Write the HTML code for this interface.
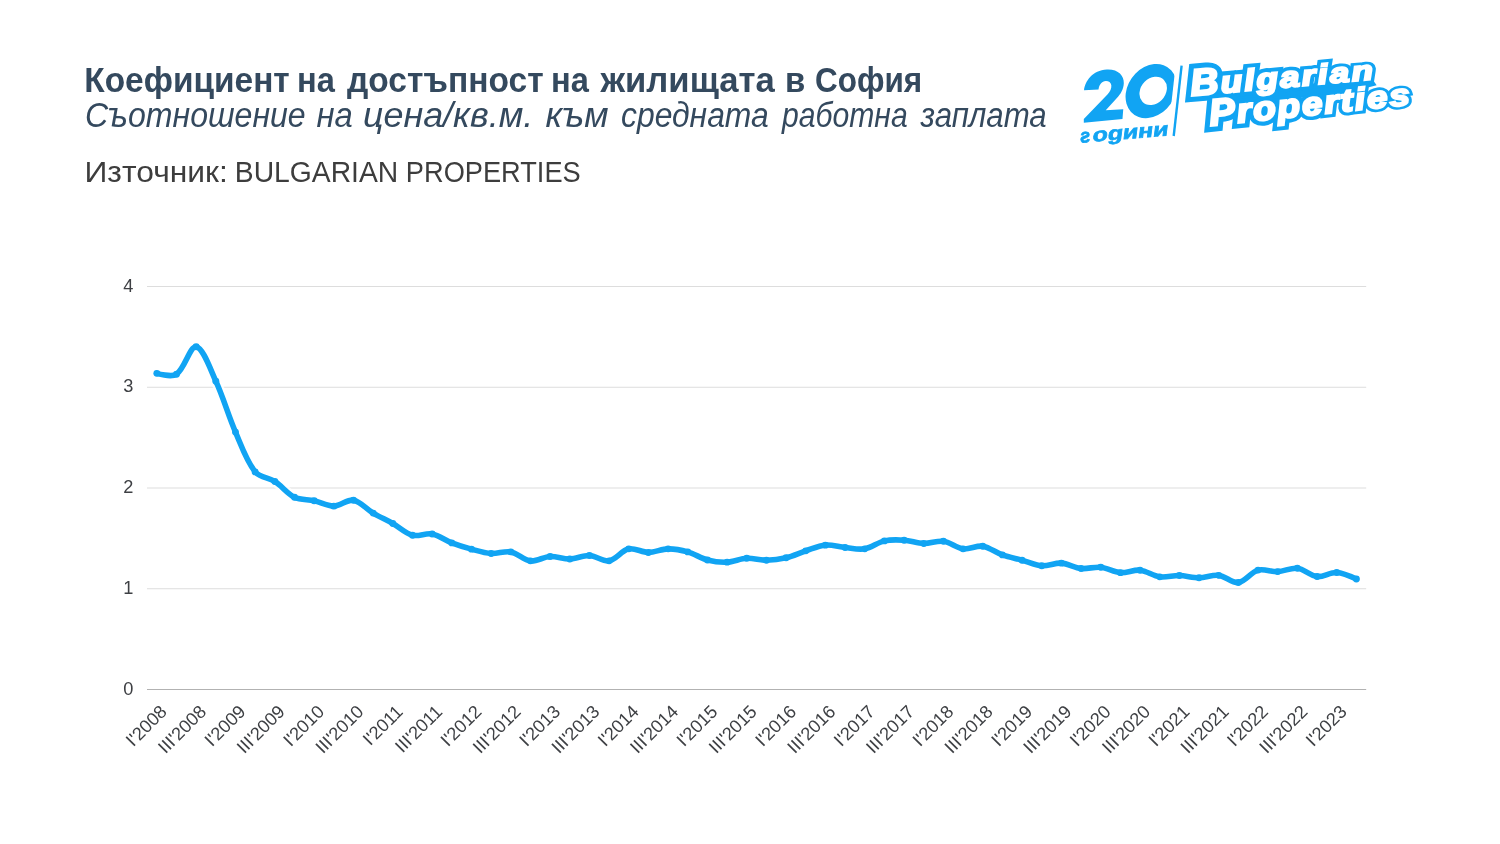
<!DOCTYPE html>
<html lang="bg"><head><meta charset="utf-8"><title>Коефициент на достъпност на жилищата в София</title>
<style>
html,body{margin:0;padding:0;background:#fff;}
body{width:1500px;height:844px;overflow:hidden;position:relative;font-family:"Liberation Sans",sans-serif;}
svg{display:block;position:absolute;left:0;top:0;will-change:transform;font-family:"Liberation Sans",sans-serif;}
</style></head><body>
<svg width="1500" height="844" viewBox="0 0 1500 844">
<rect width="1500" height="844" fill="#ffffff"/>
<line x1="147.0" y1="588.75" x2="1366.2" y2="588.75" stroke="#dddddd" stroke-width="1"/>
<line x1="147.0" y1="488.00" x2="1366.2" y2="488.00" stroke="#dddddd" stroke-width="1"/>
<line x1="147.0" y1="387.25" x2="1366.2" y2="387.25" stroke="#dddddd" stroke-width="1"/>
<line x1="147.0" y1="286.50" x2="1366.2" y2="286.50" stroke="#dddddd" stroke-width="1"/>
<line x1="147.0" y1="689.50" x2="1366.2" y2="689.50" stroke="#b2b2b2" stroke-width="1"/>
<text x="133.3" y="694.7" text-anchor="end" font-size="18.2" fill="#3e4044">0</text>
<text x="133.3" y="594.0" text-anchor="end" font-size="18.2" fill="#3e4044">1</text>
<text x="133.3" y="493.2" text-anchor="end" font-size="18.2" fill="#3e4044">2</text>
<text x="133.3" y="392.4" text-anchor="end" font-size="18.2" fill="#3e4044">3</text>
<text x="133.3" y="291.7" text-anchor="end" font-size="18.2" fill="#3e4044">4</text>
<text transform="translate(168.0 712.8) rotate(-45)" text-anchor="end" font-size="18.2" fill="#3e4044">I'2008</text>
<text transform="translate(207.4 712.8) rotate(-45)" text-anchor="end" font-size="18.2" fill="#3e4044">III'2008</text>
<text transform="translate(246.7 712.8) rotate(-45)" text-anchor="end" font-size="18.2" fill="#3e4044">I'2009</text>
<text transform="translate(286.0 712.8) rotate(-45)" text-anchor="end" font-size="18.2" fill="#3e4044">III'2009</text>
<text transform="translate(325.3 712.8) rotate(-45)" text-anchor="end" font-size="18.2" fill="#3e4044">I'2010</text>
<text transform="translate(364.7 712.8) rotate(-45)" text-anchor="end" font-size="18.2" fill="#3e4044">III'2010</text>
<text transform="translate(404.0 712.8) rotate(-45)" text-anchor="end" font-size="18.2" fill="#3e4044">I'2011</text>
<text transform="translate(443.3 712.8) rotate(-45)" text-anchor="end" font-size="18.2" fill="#3e4044">III'2011</text>
<text transform="translate(482.7 712.8) rotate(-45)" text-anchor="end" font-size="18.2" fill="#3e4044">I'2012</text>
<text transform="translate(522.0 712.8) rotate(-45)" text-anchor="end" font-size="18.2" fill="#3e4044">III'2012</text>
<text transform="translate(561.3 712.8) rotate(-45)" text-anchor="end" font-size="18.2" fill="#3e4044">I'2013</text>
<text transform="translate(600.7 712.8) rotate(-45)" text-anchor="end" font-size="18.2" fill="#3e4044">III'2013</text>
<text transform="translate(640.0 712.8) rotate(-45)" text-anchor="end" font-size="18.2" fill="#3e4044">I'2014</text>
<text transform="translate(679.3 712.8) rotate(-45)" text-anchor="end" font-size="18.2" fill="#3e4044">III'2014</text>
<text transform="translate(718.6 712.8) rotate(-45)" text-anchor="end" font-size="18.2" fill="#3e4044">I'2015</text>
<text transform="translate(758.0 712.8) rotate(-45)" text-anchor="end" font-size="18.2" fill="#3e4044">III'2015</text>
<text transform="translate(797.3 712.8) rotate(-45)" text-anchor="end" font-size="18.2" fill="#3e4044">I'2016</text>
<text transform="translate(836.6 712.8) rotate(-45)" text-anchor="end" font-size="18.2" fill="#3e4044">III'2016</text>
<text transform="translate(876.0 712.8) rotate(-45)" text-anchor="end" font-size="18.2" fill="#3e4044">I'2017</text>
<text transform="translate(915.3 712.8) rotate(-45)" text-anchor="end" font-size="18.2" fill="#3e4044">III'2017</text>
<text transform="translate(954.6 712.8) rotate(-45)" text-anchor="end" font-size="18.2" fill="#3e4044">I'2018</text>
<text transform="translate(993.9 712.8) rotate(-45)" text-anchor="end" font-size="18.2" fill="#3e4044">III'2018</text>
<text transform="translate(1033.3 712.8) rotate(-45)" text-anchor="end" font-size="18.2" fill="#3e4044">I'2019</text>
<text transform="translate(1072.6 712.8) rotate(-45)" text-anchor="end" font-size="18.2" fill="#3e4044">III'2019</text>
<text transform="translate(1111.9 712.8) rotate(-45)" text-anchor="end" font-size="18.2" fill="#3e4044">I'2020</text>
<text transform="translate(1151.3 712.8) rotate(-45)" text-anchor="end" font-size="18.2" fill="#3e4044">III'2020</text>
<text transform="translate(1190.6 712.8) rotate(-45)" text-anchor="end" font-size="18.2" fill="#3e4044">I'2021</text>
<text transform="translate(1229.9 712.8) rotate(-45)" text-anchor="end" font-size="18.2" fill="#3e4044">III'2021</text>
<text transform="translate(1269.2 712.8) rotate(-45)" text-anchor="end" font-size="18.2" fill="#3e4044">I'2022</text>
<text transform="translate(1308.6 712.8) rotate(-45)" text-anchor="end" font-size="18.2" fill="#3e4044">III'2022</text>
<text transform="translate(1347.9 712.8) rotate(-45)" text-anchor="end" font-size="18.2" fill="#3e4044">I'2023</text>
<path d="M156.83 373.35 C156.83 373.35 171.67 377.52 176.50 374.25 C184.78 368.65 190.13 345.68 196.16 346.75 C203.24 348.00 210.31 369.23 215.83 381.20 C223.42 397.67 228.26 415.42 235.49 432.08 C241.37 445.64 246.37 460.86 255.15 471.88 C259.48 477.31 268.73 477.52 274.82 481.45 C281.84 485.99 287.17 493.67 294.48 497.27 C300.28 500.12 307.66 499.33 314.15 500.80 C320.77 502.29 327.28 506.24 333.81 506.13 C340.39 506.03 347.36 499.11 353.48 500.19 C360.47 501.43 366.40 509.10 373.14 513.09 C379.51 516.86 386.35 519.83 392.81 523.46 C399.46 527.21 405.42 533.37 412.47 535.25 C418.53 536.87 425.88 532.72 432.14 533.94 C438.99 535.28 445.09 540.31 451.80 542.91 C458.20 545.39 464.83 547.37 471.46 549.16 C477.94 550.90 484.51 553.03 491.13 553.49 C497.62 553.94 504.54 550.71 510.79 551.88 C517.65 553.16 523.67 560.04 530.46 560.84 C536.78 561.59 543.51 556.83 550.12 556.51 C556.62 556.19 563.26 559.10 569.79 558.93 C576.37 558.76 582.96 555.19 589.45 555.50 C596.07 555.82 602.96 561.88 609.12 560.84 C616.07 559.67 621.76 550.35 628.78 548.85 C634.87 547.56 641.89 552.48 648.45 552.48 C655.00 552.48 661.54 548.95 668.11 548.85 C674.65 548.75 681.44 550.09 687.77 551.88 C694.55 553.78 700.65 558.16 707.44 559.94 C713.76 561.59 720.59 562.44 727.10 562.15 C733.70 561.86 740.17 558.54 746.77 558.22 C753.28 557.91 759.88 560.30 766.43 560.24 C772.99 560.17 779.71 559.34 786.10 557.82 C792.82 556.22 799.15 553.00 805.76 550.87 C812.26 548.77 818.76 545.69 825.43 545.13 C831.87 544.58 838.52 546.92 845.09 547.54 C851.63 548.16 858.44 549.92 864.75 548.85 C871.55 547.70 877.62 542.39 884.42 540.89 C890.73 539.50 897.57 539.75 904.08 540.19 C910.68 540.63 917.17 543.33 923.75 543.51 C930.28 543.70 937.06 540.43 943.41 541.30 C950.17 542.21 956.33 548.01 963.08 548.85 C969.44 549.65 976.45 545.27 982.74 546.23 C989.56 547.28 995.68 552.50 1002.41 554.90 C1008.79 557.17 1015.52 558.43 1022.07 560.24 C1028.63 562.05 1035.08 565.28 1041.74 565.78 C1048.19 566.26 1054.93 562.71 1061.40 563.16 C1068.04 563.62 1074.40 567.80 1081.06 568.50 C1087.51 569.18 1094.28 566.61 1100.73 567.29 C1107.39 567.99 1113.75 572.14 1120.39 572.63 C1126.86 573.11 1133.66 569.52 1140.06 570.21 C1146.77 570.93 1153.00 575.95 1159.72 576.86 C1166.11 577.73 1172.85 575.40 1179.39 575.55 C1185.96 575.70 1192.50 577.80 1199.05 577.77 C1205.61 577.73 1212.34 574.58 1218.72 575.35 C1225.45 576.16 1232.17 583.33 1238.38 582.50 C1245.28 581.58 1250.95 572.07 1258.05 570.11 C1264.06 568.45 1271.19 571.92 1277.71 571.62 C1284.30 571.32 1291.04 567.50 1297.37 568.30 C1304.15 569.15 1310.28 575.83 1317.04 576.56 C1323.39 577.24 1330.25 572.13 1336.70 572.53 C1343.36 572.94 1356.37 578.98 1356.37 578.98" fill="none" stroke="#ffffff" stroke-opacity="0.75" stroke-width="10.5" stroke-linecap="round" stroke-linejoin="round"/>
<path d="M156.83 373.35 C156.83 373.35 171.67 377.52 176.50 374.25 C184.78 368.65 190.13 345.68 196.16 346.75 C203.24 348.00 210.31 369.23 215.83 381.20 C223.42 397.67 228.26 415.42 235.49 432.08 C241.37 445.64 246.37 460.86 255.15 471.88 C259.48 477.31 268.73 477.52 274.82 481.45 C281.84 485.99 287.17 493.67 294.48 497.27 C300.28 500.12 307.66 499.33 314.15 500.80 C320.77 502.29 327.28 506.24 333.81 506.13 C340.39 506.03 347.36 499.11 353.48 500.19 C360.47 501.43 366.40 509.10 373.14 513.09 C379.51 516.86 386.35 519.83 392.81 523.46 C399.46 527.21 405.42 533.37 412.47 535.25 C418.53 536.87 425.88 532.72 432.14 533.94 C438.99 535.28 445.09 540.31 451.80 542.91 C458.20 545.39 464.83 547.37 471.46 549.16 C477.94 550.90 484.51 553.03 491.13 553.49 C497.62 553.94 504.54 550.71 510.79 551.88 C517.65 553.16 523.67 560.04 530.46 560.84 C536.78 561.59 543.51 556.83 550.12 556.51 C556.62 556.19 563.26 559.10 569.79 558.93 C576.37 558.76 582.96 555.19 589.45 555.50 C596.07 555.82 602.96 561.88 609.12 560.84 C616.07 559.67 621.76 550.35 628.78 548.85 C634.87 547.56 641.89 552.48 648.45 552.48 C655.00 552.48 661.54 548.95 668.11 548.85 C674.65 548.75 681.44 550.09 687.77 551.88 C694.55 553.78 700.65 558.16 707.44 559.94 C713.76 561.59 720.59 562.44 727.10 562.15 C733.70 561.86 740.17 558.54 746.77 558.22 C753.28 557.91 759.88 560.30 766.43 560.24 C772.99 560.17 779.71 559.34 786.10 557.82 C792.82 556.22 799.15 553.00 805.76 550.87 C812.26 548.77 818.76 545.69 825.43 545.13 C831.87 544.58 838.52 546.92 845.09 547.54 C851.63 548.16 858.44 549.92 864.75 548.85 C871.55 547.70 877.62 542.39 884.42 540.89 C890.73 539.50 897.57 539.75 904.08 540.19 C910.68 540.63 917.17 543.33 923.75 543.51 C930.28 543.70 937.06 540.43 943.41 541.30 C950.17 542.21 956.33 548.01 963.08 548.85 C969.44 549.65 976.45 545.27 982.74 546.23 C989.56 547.28 995.68 552.50 1002.41 554.90 C1008.79 557.17 1015.52 558.43 1022.07 560.24 C1028.63 562.05 1035.08 565.28 1041.74 565.78 C1048.19 566.26 1054.93 562.71 1061.40 563.16 C1068.04 563.62 1074.40 567.80 1081.06 568.50 C1087.51 569.18 1094.28 566.61 1100.73 567.29 C1107.39 567.99 1113.75 572.14 1120.39 572.63 C1126.86 573.11 1133.66 569.52 1140.06 570.21 C1146.77 570.93 1153.00 575.95 1159.72 576.86 C1166.11 577.73 1172.85 575.40 1179.39 575.55 C1185.96 575.70 1192.50 577.80 1199.05 577.77 C1205.61 577.73 1212.34 574.58 1218.72 575.35 C1225.45 576.16 1232.17 583.33 1238.38 582.50 C1245.28 581.58 1250.95 572.07 1258.05 570.11 C1264.06 568.45 1271.19 571.92 1277.71 571.62 C1284.30 571.32 1291.04 567.50 1297.37 568.30 C1304.15 569.15 1310.28 575.83 1317.04 576.56 C1323.39 577.24 1330.25 572.13 1336.70 572.53 C1343.36 572.94 1356.37 578.98 1356.37 578.98" fill="none" stroke="#11a4f3" stroke-width="5.6" stroke-linecap="round" stroke-linejoin="round"/>
<g fill="#11a4f3"><circle cx="156.83" cy="373.35" r="3.45"/><circle cx="176.50" cy="374.25" r="3.45"/><circle cx="196.16" cy="346.75" r="3.45"/><circle cx="215.83" cy="381.20" r="3.45"/><circle cx="235.49" cy="432.08" r="3.45"/><circle cx="255.15" cy="471.88" r="3.45"/><circle cx="274.82" cy="481.45" r="3.45"/><circle cx="294.48" cy="497.27" r="3.45"/><circle cx="314.15" cy="500.80" r="3.45"/><circle cx="333.81" cy="506.13" r="3.45"/><circle cx="353.48" cy="500.19" r="3.45"/><circle cx="373.14" cy="513.09" r="3.45"/><circle cx="392.81" cy="523.46" r="3.45"/><circle cx="412.47" cy="535.25" r="3.45"/><circle cx="432.14" cy="533.94" r="3.45"/><circle cx="451.80" cy="542.91" r="3.45"/><circle cx="471.46" cy="549.16" r="3.45"/><circle cx="491.13" cy="553.49" r="3.45"/><circle cx="510.79" cy="551.88" r="3.45"/><circle cx="530.46" cy="560.84" r="3.45"/><circle cx="550.12" cy="556.51" r="3.45"/><circle cx="569.79" cy="558.93" r="3.45"/><circle cx="589.45" cy="555.50" r="3.45"/><circle cx="609.12" cy="560.84" r="3.45"/><circle cx="628.78" cy="548.85" r="3.45"/><circle cx="648.45" cy="552.48" r="3.45"/><circle cx="668.11" cy="548.85" r="3.45"/><circle cx="687.77" cy="551.88" r="3.45"/><circle cx="707.44" cy="559.94" r="3.45"/><circle cx="727.10" cy="562.15" r="3.45"/><circle cx="746.77" cy="558.22" r="3.45"/><circle cx="766.43" cy="560.24" r="3.45"/><circle cx="786.10" cy="557.82" r="3.45"/><circle cx="805.76" cy="550.87" r="3.45"/><circle cx="825.43" cy="545.13" r="3.45"/><circle cx="845.09" cy="547.54" r="3.45"/><circle cx="864.75" cy="548.85" r="3.45"/><circle cx="884.42" cy="540.89" r="3.45"/><circle cx="904.08" cy="540.19" r="3.45"/><circle cx="923.75" cy="543.51" r="3.45"/><circle cx="943.41" cy="541.30" r="3.45"/><circle cx="963.08" cy="548.85" r="3.45"/><circle cx="982.74" cy="546.23" r="3.45"/><circle cx="1002.41" cy="554.90" r="3.45"/><circle cx="1022.07" cy="560.24" r="3.45"/><circle cx="1041.74" cy="565.78" r="3.45"/><circle cx="1061.40" cy="563.16" r="3.45"/><circle cx="1081.06" cy="568.50" r="3.45"/><circle cx="1100.73" cy="567.29" r="3.45"/><circle cx="1120.39" cy="572.63" r="3.45"/><circle cx="1140.06" cy="570.21" r="3.45"/><circle cx="1159.72" cy="576.86" r="3.45"/><circle cx="1179.39" cy="575.55" r="3.45"/><circle cx="1199.05" cy="577.77" r="3.45"/><circle cx="1218.72" cy="575.35" r="3.45"/><circle cx="1238.38" cy="582.50" r="3.45"/><circle cx="1258.05" cy="570.11" r="3.45"/><circle cx="1277.71" cy="571.62" r="3.45"/><circle cx="1297.37" cy="568.30" r="3.45"/><circle cx="1317.04" cy="576.56" r="3.45"/><circle cx="1336.70" cy="572.53" r="3.45"/><circle cx="1356.37" cy="578.98" r="3.45"/></g>
<text transform="translate(84.31 92.00) scale(0.9742 1)" font-size="34.30" font-weight="bold" fill="#34495e">Коефициент</text>
<text transform="translate(296.96 92.00) scale(0.9507 1)" font-size="34.30" font-weight="bold" fill="#34495e">на</text>
<text transform="translate(347.00 92.00) scale(0.9788 1)" font-size="34.30" font-weight="bold" fill="#34495e">достъпност</text>
<text transform="translate(550.96 92.00) scale(0.9507 1)" font-size="34.30" font-weight="bold" fill="#34495e">на</text>
<text transform="translate(600.54 92.00) scale(1.0096 1)" font-size="34.30" font-weight="bold" fill="#34495e">жилищата</text>
<text transform="translate(784.94 92.00) scale(0.9612 1)" font-size="34.30" font-weight="bold" fill="#34495e">в</text>
<text transform="translate(815.02 92.00) scale(0.9168 1)" font-size="34.30" font-weight="bold" fill="#34495e">София</text>
<text transform="translate(84.90 127.00) scale(0.9350 1)" font-size="34.30" font-style="italic" fill="#34495e">Съотношение</text>
<text transform="translate(316.49 127.00) scale(0.9573 1)" font-size="34.30" font-style="italic" fill="#34495e">на</text>
<text transform="translate(362.88 127.00) scale(1.0470 1)" font-size="34.30" font-style="italic" fill="#34495e">цена/кв.м.</text>
<text transform="translate(545.45 127.00) scale(1.0332 1)" font-size="34.30" font-style="italic" fill="#34495e">към</text>
<text transform="translate(621.00 127.00) scale(0.9290 1)" font-size="34.30" font-style="italic" fill="#34495e">средната</text>
<text transform="translate(781.94 127.00) scale(0.8795 1)" font-size="34.30" font-style="italic" fill="#34495e">работна</text>
<text transform="translate(920.49 127.00) scale(0.9098 1)" font-size="34.30" font-style="italic" fill="#34495e">заплата</text>
<text transform="translate(84.51 181.60) scale(1.0607 1)" font-size="30.00"  fill="#3d3d3d">Източник:</text>
<text transform="translate(234.79 181.60) scale(0.9431 1)" font-size="30.00"  fill="#3d3d3d">BULGARIAN</text>
<text transform="translate(405.87 181.60) scale(0.9068 1)" font-size="30.00"  fill="#3d3d3d">PROPERTIES</text>
<path d="M1083.81 122.85 L1083.81 119.06 L1107.43 94.44 C1110.21 91.43 1111.66 88.31 1111.33 85.19 C1110.99 82.52 1108.54 80.96 1105.75 81.07 C1101.86 81.29 1099.18 84.75 1098.51 89.43 L1084.03 90.32 C1085.14 81.07 1092.38 70.26 1106.87 69.48 C1118.01 68.92 1124.14 75.50 1123.81 83.30 C1123.58 89.43 1120.80 93.88 1116.90 98.12 L1105.75 110.37 L1123.25 109.26 L1122.47 118.95 Z" fill="#11a4f3"/>
<g transform="translate(1151.10 91.10) rotate(-5.6) skewX(-12)">
<clipPath id="c0"><rect x="-40" y="-40" width="62" height="80"/></clipPath>
<path clip-path="url(#c0)" fill-rule="evenodd" fill="#11a4f3" d="M-25.5 0 A25.5 26.6 0 1 0 25.5 0 A25.5 26.6 0 1 0 -25.5 0 Z M-11.6 0 A13.7 13.9 0 1 0 15.8 0 A13.7 13.9 0 1 0 -11.6 0 Z"/>
</g>
<line x1="1181.6" y1="65.6" x2="1173.7" y2="136" stroke="#11a4f3" stroke-width="2.4"/>
<g transform="translate(1080.80 142.70) rotate(-4.7)"><text transform="translate(0.00 0) scale(0.9349 1)" font-style="italic" font-size="19.50" font-weight="bold" fill="#11a4f3" stroke="#11a4f3" stroke-width="0.7">г</text><text transform="skewX(-12) translate(11.22 0) scale(1.2786 1)" font-size="19.50" font-weight="bold" fill="#11a4f3" stroke="#11a4f3" stroke-width="0.7">оgини</text></g>
<g transform="translate(1190.80 95.70) rotate(-5.10)"><polygon points="34,-2 182,-1 186,6 150,12 34,12" fill="#11a4f3"/><text transform="translate(0.70 0) scale(1.2450 1.1994)" font-size="31.00" font-weight="bold" font-style="italic" stroke-linejoin="miter" stroke-miterlimit="1.85" vector-effect="non-scaling-stroke" fill="#11a4f3" stroke="#11a4f3" stroke-width="12.58">B</text><text transform="translate(30.87 0) scale(1.1319 0.9765)" font-size="31.00" font-weight="bold" font-style="italic" stroke-linejoin="miter" stroke-miterlimit="1.85" vector-effect="non-scaling-stroke" fill="#11a4f3" stroke="#11a4f3" stroke-width="11.80">u</text><text transform="translate(54.60 0) scale(1.1319 0.9584)" font-size="31.00" font-weight="bold" font-style="italic" stroke-linejoin="miter" stroke-miterlimit="1.85" vector-effect="non-scaling-stroke" fill="#11a4f3" stroke="#11a4f3" stroke-width="11.18">l</text><text transform="translate(66.65 0) scale(1.1319 0.9492)" font-size="31.00" font-weight="bold" font-style="italic" stroke-linejoin="miter" stroke-miterlimit="1.85" vector-effect="non-scaling-stroke" fill="#11a4f3" stroke="#11a4f3" stroke-width="10.87">g</text><text transform="translate(90.38 0) scale(1.1319 0.9311)" font-size="31.00" font-weight="bold" font-style="italic" stroke-linejoin="miter" stroke-miterlimit="1.85" vector-effect="non-scaling-stroke" fill="#11a4f3" stroke="#11a4f3" stroke-width="10.25">a</text><text transform="translate(112.20 0) scale(1.1319 0.9144)" font-size="31.00" font-weight="bold" font-style="italic" stroke-linejoin="miter" stroke-miterlimit="1.85" vector-effect="non-scaling-stroke" fill="#11a4f3" stroke="#11a4f3" stroke-width="9.69">r</text><text transform="translate(128.15 0) scale(1.1319 0.9023)" font-size="31.00" font-weight="bold" font-style="italic" stroke-linejoin="miter" stroke-miterlimit="1.85" vector-effect="non-scaling-stroke" fill="#11a4f3" stroke="#11a4f3" stroke-width="9.27">i</text><text transform="translate(140.20 0) scale(1.1319 0.8931)" font-size="31.00" font-weight="bold" font-style="italic" stroke-linejoin="miter" stroke-miterlimit="1.85" vector-effect="non-scaling-stroke" fill="#11a4f3" stroke="#11a4f3" stroke-width="8.96">a</text><text transform="translate(162.02 0) scale(1.1319 0.8765)" font-size="31.00" font-weight="bold" font-style="italic" stroke-linejoin="miter" stroke-miterlimit="1.85" vector-effect="non-scaling-stroke" fill="#11a4f3" stroke="#11a4f3" stroke-width="8.40">n</text></g>
<g transform="translate(1209.80 125.70) rotate(-6.00)"><text transform="translate(0.70 0) scale(1.1112 1.0755)" font-size="34.50" font-weight="bold" font-style="italic" stroke-linejoin="miter" stroke-miterlimit="1.85" vector-effect="non-scaling-stroke" fill="#11a4f3" stroke="#11a4f3" stroke-width="12.58">P</text><text transform="translate(28.27 0) scale(1.0685 0.9818)" font-size="34.50" font-weight="bold" font-style="italic" stroke-linejoin="miter" stroke-miterlimit="1.85" vector-effect="non-scaling-stroke" fill="#11a4f3" stroke="#11a4f3" stroke-width="11.83">r</text><text transform="translate(44.62 0) scale(1.0685 0.9713)" font-size="34.50" font-weight="bold" font-style="italic" stroke-linejoin="miter" stroke-miterlimit="1.85" vector-effect="non-scaling-stroke" fill="#11a4f3" stroke="#11a4f3" stroke-width="11.38">o</text><text transform="translate(69.13 0) scale(1.0685 0.9556)" font-size="34.50" font-weight="bold" font-style="italic" stroke-linejoin="miter" stroke-miterlimit="1.85" vector-effect="non-scaling-stroke" fill="#11a4f3" stroke="#11a4f3" stroke-width="10.71">p</text><text transform="translate(93.65 0) scale(1.0685 0.9398)" font-size="34.50" font-weight="bold" font-style="italic" stroke-linejoin="miter" stroke-miterlimit="1.85" vector-effect="non-scaling-stroke" fill="#11a4f3" stroke="#11a4f3" stroke-width="10.04">e</text><text transform="translate(116.15 0) scale(1.0685 0.9254)" font-size="34.50" font-weight="bold" font-style="italic" stroke-linejoin="miter" stroke-miterlimit="1.85" vector-effect="non-scaling-stroke" fill="#11a4f3" stroke="#11a4f3" stroke-width="9.42">r</text><text transform="translate(132.50 0) scale(1.0685 0.9149)" font-size="34.50" font-weight="bold" font-style="italic" stroke-linejoin="miter" stroke-miterlimit="1.85" vector-effect="non-scaling-stroke" fill="#11a4f3" stroke="#11a4f3" stroke-width="8.97">t</text><text transform="translate(146.77 0) scale(1.0685 0.9057)" font-size="34.50" font-weight="bold" font-style="italic" stroke-linejoin="miter" stroke-miterlimit="1.85" vector-effect="non-scaling-stroke" fill="#11a4f3" stroke="#11a4f3" stroke-width="8.58">i</text><text transform="translate(159.02 0) scale(1.0685 0.8979)" font-size="34.50" font-weight="bold" font-style="italic" stroke-linejoin="miter" stroke-miterlimit="1.85" vector-effect="non-scaling-stroke" fill="#11a4f3" stroke="#11a4f3" stroke-width="8.25">e</text><text transform="translate(181.52 0) scale(1.0685 0.8834)" font-size="34.50" font-weight="bold" font-style="italic" stroke-linejoin="miter" stroke-miterlimit="1.85" vector-effect="non-scaling-stroke" fill="#11a4f3" stroke="#11a4f3" stroke-width="7.63">s</text></g>
<g transform="translate(1190.80 95.70) rotate(-5.10)"><text transform="translate(0.70 0) scale(1.2450 1.1994)" font-size="31.00" font-weight="bold" font-style="italic" stroke-linejoin="miter" stroke-miterlimit="1.85" vector-effect="non-scaling-stroke" fill="#fff" stroke="#fff" stroke-width="2.60">B</text><text transform="translate(30.87 0) scale(1.1319 0.9765)" font-size="31.00" font-weight="bold" font-style="italic" stroke-linejoin="miter" stroke-miterlimit="1.85" vector-effect="non-scaling-stroke" fill="#fff" stroke="#fff" stroke-width="2.54">u</text><text transform="translate(54.60 0) scale(1.1319 0.9584)" font-size="31.00" font-weight="bold" font-style="italic" stroke-linejoin="miter" stroke-miterlimit="1.85" vector-effect="non-scaling-stroke" fill="#fff" stroke="#fff" stroke-width="2.49">l</text><text transform="translate(66.65 0) scale(1.1319 0.9492)" font-size="31.00" font-weight="bold" font-style="italic" stroke-linejoin="miter" stroke-miterlimit="1.85" vector-effect="non-scaling-stroke" fill="#fff" stroke="#fff" stroke-width="2.47">g</text><text transform="translate(90.38 0) scale(1.1319 0.9311)" font-size="31.00" font-weight="bold" font-style="italic" stroke-linejoin="miter" stroke-miterlimit="1.85" vector-effect="non-scaling-stroke" fill="#fff" stroke="#fff" stroke-width="2.42">a</text><text transform="translate(112.20 0) scale(1.1319 0.9144)" font-size="31.00" font-weight="bold" font-style="italic" stroke-linejoin="miter" stroke-miterlimit="1.85" vector-effect="non-scaling-stroke" fill="#fff" stroke="#fff" stroke-width="2.38">r</text><text transform="translate(128.15 0) scale(1.1319 0.9023)" font-size="31.00" font-weight="bold" font-style="italic" stroke-linejoin="miter" stroke-miterlimit="1.85" vector-effect="non-scaling-stroke" fill="#fff" stroke="#fff" stroke-width="2.35">i</text><text transform="translate(140.20 0) scale(1.1319 0.8931)" font-size="31.00" font-weight="bold" font-style="italic" stroke-linejoin="miter" stroke-miterlimit="1.85" vector-effect="non-scaling-stroke" fill="#fff" stroke="#fff" stroke-width="2.32">a</text><text transform="translate(162.02 0) scale(1.1319 0.8765)" font-size="31.00" font-weight="bold" font-style="italic" stroke-linejoin="miter" stroke-miterlimit="1.85" vector-effect="non-scaling-stroke" fill="#fff" stroke="#fff" stroke-width="2.28">n</text></g>
<g transform="translate(1209.80 125.70) rotate(-6.00)"><text transform="translate(0.70 0) scale(1.1112 1.0755)" font-size="34.50" font-weight="bold" font-style="italic" stroke-linejoin="miter" stroke-miterlimit="1.85" vector-effect="non-scaling-stroke" fill="#fff" stroke="#fff" stroke-width="2.60">P</text><text transform="translate(28.27 0) scale(1.0685 0.9818)" font-size="34.50" font-weight="bold" font-style="italic" stroke-linejoin="miter" stroke-miterlimit="1.85" vector-effect="non-scaling-stroke" fill="#fff" stroke="#fff" stroke-width="2.55">r</text><text transform="translate(44.62 0) scale(1.0685 0.9713)" font-size="34.50" font-weight="bold" font-style="italic" stroke-linejoin="miter" stroke-miterlimit="1.85" vector-effect="non-scaling-stroke" fill="#fff" stroke="#fff" stroke-width="2.53">o</text><text transform="translate(69.13 0) scale(1.0685 0.9556)" font-size="34.50" font-weight="bold" font-style="italic" stroke-linejoin="miter" stroke-miterlimit="1.85" vector-effect="non-scaling-stroke" fill="#fff" stroke="#fff" stroke-width="2.48">p</text><text transform="translate(93.65 0) scale(1.0685 0.9398)" font-size="34.50" font-weight="bold" font-style="italic" stroke-linejoin="miter" stroke-miterlimit="1.85" vector-effect="non-scaling-stroke" fill="#fff" stroke="#fff" stroke-width="2.44">e</text><text transform="translate(116.15 0) scale(1.0685 0.9254)" font-size="34.50" font-weight="bold" font-style="italic" stroke-linejoin="miter" stroke-miterlimit="1.85" vector-effect="non-scaling-stroke" fill="#fff" stroke="#fff" stroke-width="2.41">r</text><text transform="translate(132.50 0) scale(1.0685 0.9149)" font-size="34.50" font-weight="bold" font-style="italic" stroke-linejoin="miter" stroke-miterlimit="1.85" vector-effect="non-scaling-stroke" fill="#fff" stroke="#fff" stroke-width="2.38">t</text><text transform="translate(146.77 0) scale(1.0685 0.9057)" font-size="34.50" font-weight="bold" font-style="italic" stroke-linejoin="miter" stroke-miterlimit="1.85" vector-effect="non-scaling-stroke" fill="#fff" stroke="#fff" stroke-width="2.35">i</text><text transform="translate(159.02 0) scale(1.0685 0.8979)" font-size="34.50" font-weight="bold" font-style="italic" stroke-linejoin="miter" stroke-miterlimit="1.85" vector-effect="non-scaling-stroke" fill="#fff" stroke="#fff" stroke-width="2.33">e</text><text transform="translate(181.52 0) scale(1.0685 0.8834)" font-size="34.50" font-weight="bold" font-style="italic" stroke-linejoin="miter" stroke-miterlimit="1.85" vector-effect="non-scaling-stroke" fill="#fff" stroke="#fff" stroke-width="2.30">s</text></g>
</svg>
</body></html>
